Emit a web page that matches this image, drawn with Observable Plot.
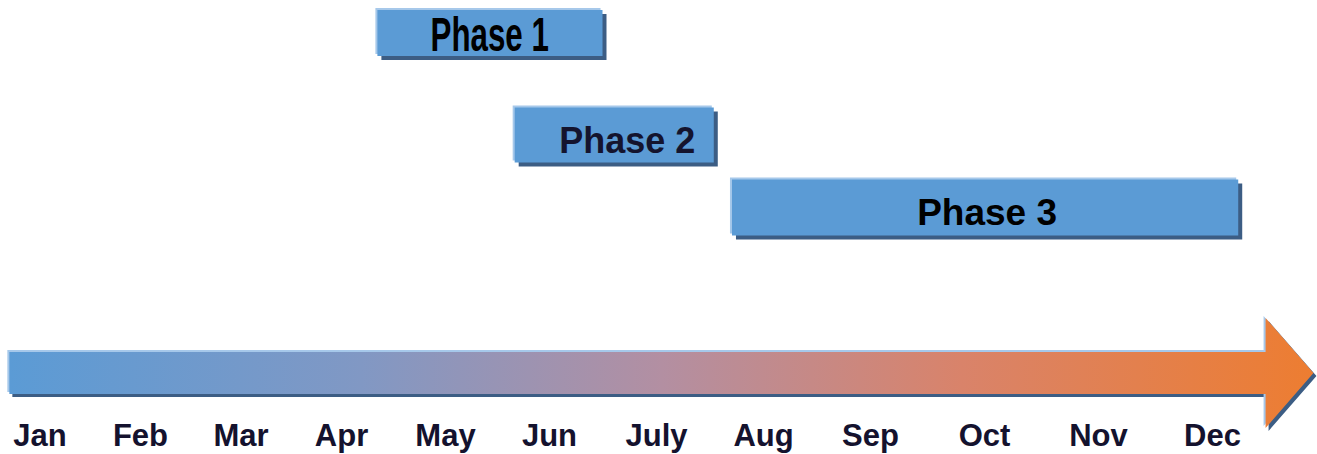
<!DOCTYPE html>
<html><head><meta charset="utf-8">
<script src="https://cdn.jsdelivr.net/npm/d3@7"></script>
<script src="https://cdn.jsdelivr.net/npm/@observablehq/plot@0.6"></script>
<style>
html,body{margin:0;padding:0;background:#fff;}
#chart svg{display:block;}
</style></head><body><div id="chart"></div>
<script>
// ---- data ----
const months = ["Jan","Feb","Mar","Apr","May","Jun","July","Aug","Sep","Oct","Nov","Dec"];
const monthIndex = [0,1,2,3,4,5,6,7,8,9,10,11];
const phaseNames = ["Phase 1","Phase 2","Phase 3"];
const phaseStart = [3.35, 4.67, 6.71];   // in months from Jan
const phaseEnd   = [5.50, 6.54, 11.23];
const phaseLane  = [1, 2, 3];
const timelineStart = -0.30;
const timelineShaftEnd = 11.47;
const timelineTip = 11.89;
const timelineLane = 4;
const labelLane = 5;

const phases = phaseNames.map((name, i) => ({name, start: phaseStart[i], end: phaseEnd[i], lane: phaseLane[i]}));
const monthRows = monthIndex.map((i) => ({i, label: months[i]}));

// ---- styles ----
const FONT = "'Liberation Sans', Arial, Helvetica, sans-serif";
const barThickness = {"Phase 1": 46, "Phase 2": 55, "Phase 3": 56};
const textStyle = {
  "Phase 1": {fill: "#000000", dx: 0, dy: 2, size: 36},
  "Phase 2": {fill: "#14142e", dx: 13, dy: 6, size: 36},
  "Phase 3": {fill: "#000000", dx: 6, dy: 6, size: 37}
};

function timelineArrow(index, scales) {
  const x = scales.x, y = scales.y;
  const x0 = x(timelineStart), x1 = x(timelineShaftEnd), xt = x(timelineTip), yc = y(timelineLane);
  const hs = 21, hh = 55;
  const pts = [[x0, yc - hs], [x1, yc - hs], [x1, yc - hh], [xt, yc], [x1, yc + hh], [x1, yc + hs], [x0, yc + hs]];
  const d = "M" + pts.map(p => p.join(",")).join("L") + "Z";
  const g = d3.create("svg:g");
  const grad = g.append("defs").append("linearGradient")
    .attr("id", "tlgrad").attr("gradientUnits", "userSpaceOnUse")
    .attr("x1", x0).attr("x2", xt).attr("y1", 0).attr("y2", 0);
  [[0, "#5b9bd5"], [0.27, "#8198c4"], [0.5, "#b38fa2"], [0.73, "#d9836a"], [1, "#ed7d31"]]
    .forEach(([o, c]) => grad.append("stop").attr("offset", o).attr("stop-color", c));
  g.append("path").attr("d", d).attr("fill", "#3c5d84").attr("transform", "translate(3,3)");
  g.append("path").attr("d", d).attr("fill", "#a6c8ea").attr("transform", "translate(-2,-2)");
  g.append("path").attr("d", d).attr("fill", "url(#tlgrad)");
  return g.node();
}

const plot = Plot.plot({
  width: 1317,
  height: 454,
  marginTop: 0, marginRight: 0, marginBottom: 0, marginLeft: 0,
  x: {type: "linear", domain: [0, 3, 5, 8, 11], range: [39.5, 341, 549, 870, 1212], axis: null},
  y: {type: "linear", domain: [1, 2, 3, 4, 5], range: [32.5, 134.5, 207, 373, 436], axis: null},
  style: {background: "#ffffff", fontFamily: FONT, overflow: "visible"},
  marks: [
    // bar shadow
    Plot.ruleY(phases, {y: "lane", x1: "start", x2: "end", stroke: "#3c5d84", strokeWidth: d => barThickness[d.name], dx: 4, dy: 4}),
    // bar highlight
    Plot.ruleY(phases, {y: "lane", x1: "start", x2: "end", stroke: "#a6c8ea", strokeWidth: d => barThickness[d.name], dx: -2, dy: -2}),
    // bars
    Plot.ruleY(phases, {y: "lane", x1: "start", x2: "end", stroke: "#5b9bd5", strokeWidth: d => barThickness[d.name]}),
    ...phaseNames.map(n => Plot.text(phases.filter(d => d.name === n), {
      x: d => (d.start + d.end) / 2, y: "lane", text: "name",
      fill: textStyle[n].fill, dx: textStyle[n].dx, dy: textStyle[n].dy,
      fontSize: textStyle[n].size, fontWeight: "bold", fontFamily: FONT, lineAnchor: "middle"
    })),
    timelineArrow,
    Plot.text(monthRows, {
      x: "i", y: () => labelLane, text: "label",
      fill: "#14122e", fontSize: 31, fontWeight: "bold", fontFamily: FONT, lineAnchor: "middle"
    })
  ]
});

document.getElementById("chart").appendChild(plot);

// condensed, tall look of the "Phase 1" label
d3.select(plot).selectAll("text").filter(function () { return this.textContent === "Phase 1"; })
  .each(function () {
    const b = this.getBBox();
    const cx = b.x + b.width / 2, cy = b.y + b.height / 2;
    const prev = this.getAttribute("transform") || "";
    this.setAttribute("transform", `${prev} translate(${cx},${cy}) scale(0.87,1.36) translate(${-cx},${-cy})`);
  });
</script>
</body></html>
